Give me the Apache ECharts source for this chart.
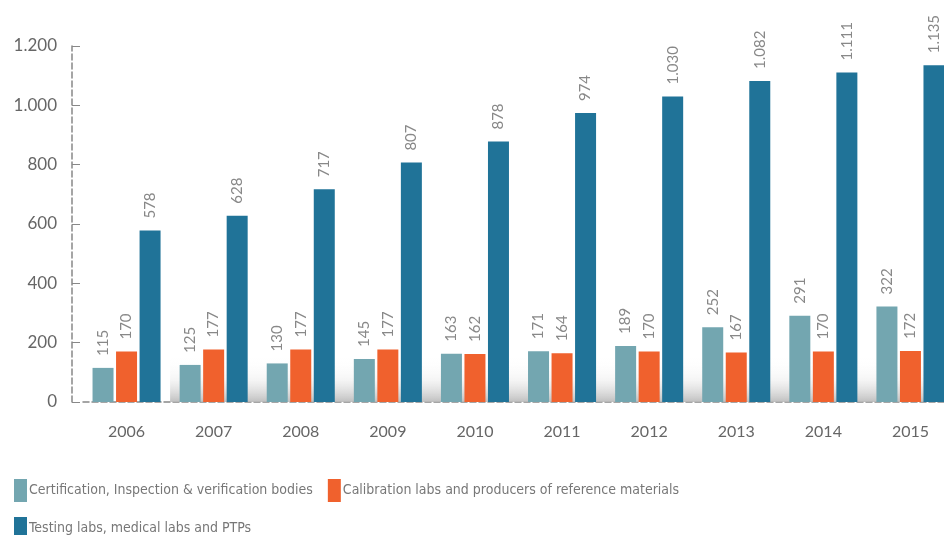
<!DOCTYPE html>
<html>
<head>
<meta charset="utf-8">
<script src="https://cdn.jsdelivr.net/npm/echarts@6/dist/echarts.min.js"></script>
<style>
  html, body { margin: 0; padding: 0; background: #fff; }
  #main { width: 944px; height: 535px; }
</style>
</head>
<body>
<div id="main"></div>
<script>
var years = ['2006', '2007', '2008', '2009', '2010', '2011', '2012', '2013', '2014', '2015'];
var certification = [115, 125, 130, 145, 163, 171, 189, 252, 291, 322];
var calibration = [170, 177, 177, 177, 162, 164, 170, 167, 170, 172];
var testing = [578, 628, 717, 807, 878, 974, 1030, 1082, 1111, 1135];
var seriesNames = [
    'Certification, Inspection & verification bodies',
    'Calibration labs and producers of reference materials',
    'Testing labs, medical labs and PTPs'
];
var colors = ['#73a6b0', '#f0612d', '#207398'];

// thousands with a dot, like 1.030
function dotThousands(v) {
    return String(v).replace(/\B(?=(\d{3})+(?!\d))/g, '.');
}

var myChart = echarts.init(document.getElementById('main'));

var labelStyle = {
    show: true,
    position: 'top',
    rotate: 90,
    align: 'left',
    verticalAlign: 'middle',
    distance: 12,
    color: '#888',
    fontFamily: 'Lato',
    fontSize: 15,
    formatter: function (p) { return dotThousands(p.value); }
};

function makeSeries(i, data) {
    return {
        name: seriesNames[i],
        type: 'bar',
        barWidth: 21,
        barGap: '12%',
        itemStyle: { color: colors[i] },
        label: labelStyle,
        data: data
    };
}

var s0 = makeSeries(0, certification);
// soft grey shading near the baseline
s0.markArea = {
    silent: true,
    itemStyle: {
        color: new echarts.graphic.LinearGradient(0, 0, 0, 1, [
            { offset: 0, color: 'rgba(255,255,255,0)' },
            { offset: 0.5, color: 'rgba(235,235,235,0.5)' },
            { offset: 1, color: 'rgba(185,185,185,0.9)' }
        ])
    },
    data: [[{ xAxis: '2007', yAxis: 150 }, { xAxis: '2015', yAxis: 0 }]]
};

var option = {
    animation: false,
    textStyle: { fontFamily: 'Lato' },
    grid: { left: 83, top: 46, width: 871, height: 356, outerBoundsMode: 'none' },
    legend: {
        left: 9,
        top: 474,
        width: 720,
        itemWidth: 13,
        itemHeight: 23,
        itemGap: 15,
        icon: 'rect',
        textStyle: {
            fontFamily: 'DejaVu Sans Condensed',
            fontSize: 14,
            color: '#777',
            padding: [0, 0, 0, -3]
        },
        data: seriesNames
    },
    xAxis: {
        type: 'category',
        data: years,
        axisLine: { lineStyle: { color: '#888', type: 'dashed', width: 1.5 } },
        axisTick: { inside: true, length: 8, lineStyle: { color: '#888' } },
        axisLabel: { color: '#666', fontSize: 16, margin: 22 }
    },
    yAxis: {
        type: 'value',
        min: 0,
        max: 1200,
        interval: 200,
        offset: 11,
        axisLine: { show: true, lineStyle: { color: '#888', type: 'dashed', width: 1.5 } },
        axisTick: { show: true, inside: true, length: 8, lineStyle: { color: '#888' } },
        splitLine: { show: false },
        axisLabel: {
            color: '#666',
            fontSize: 17,
            margin: 15,
            formatter: function (v) { return dotThousands(v); }
        }
    },
    series: [
        s0,
        makeSeries(1, calibration),
        makeSeries(2, testing)
    ]
};
myChart.setOption(option);
</script>
</body>
</html>
